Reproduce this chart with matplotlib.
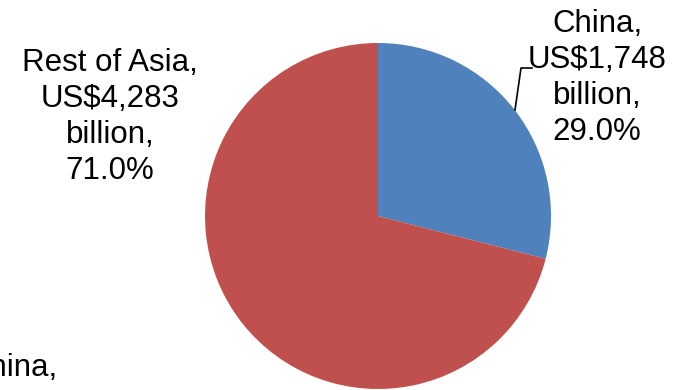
import matplotlib
matplotlib.use("Agg")
import matplotlib.pyplot as plt

plt.rcParams['font.family'] = ['Liberation Sans', 'DejaVu Sans']

regions = ["China", "Rest of Asia"]
values = [1748, 4283]          # US$ billion
shares = [29.0, 71.0]          # percent
colors = ["#4F81BD", "#C0504D"]

W, H = 695, 390
fig = plt.figure(figsize=(W / 100, H / 100), dpi=100)
ax = fig.add_axes([0, 0, 1, 1])

cx, cy, r = 378, H - 216, 173
ax.pie(values, colors=colors, startangle=90, counterclock=False,
       center=(cx, cy), radius=r, frame=True,
       wedgeprops=dict(linewidth=0))
ax.set_xlim(0, W)
ax.set_ylim(0, H)
ax.set_aspect("equal")
ax.axis("off")

labels = [f"{n},\nUS${v:,}\nbillion,\n{p:.1f}%" for n, v, p in zip(regions, values, shares)]

fs = 22.5
ax.text(597, H - 78, labels[0], ha="center", va="center", fontsize=fs,
        linespacing=1.27, color="black")
ax.text(110, H - 117, labels[1], ha="center", va="center", fontsize=fs,
        linespacing=1.27, color="black")

# leader line for the China label
ax.plot([515, 521, 532], [H - 110, H - 68, H - 68], color="black", lw=1.2)

# partial label from the neighbouring chart
ax.text(-33, H - 368, "China,", ha="left", va="center", fontsize=fs, color="black")

fig.savefig("out.png", dpi=100)
